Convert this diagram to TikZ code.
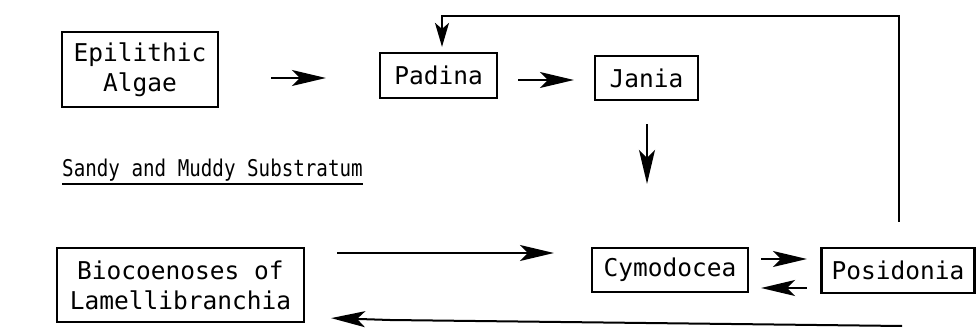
\documentclass[tikz,border=0pt]{standalone}
\usepackage{fontspec}
\setmonofont{DejaVu Sans Mono}
\usetikzlibrary{arrows.meta}
\begin{document}
\begin{tikzpicture}[x=1pt,y=1pt,
  box/.style={draw,line width=2.2pt,inner sep=0pt,align=center,
    font=\ttfamily\fontsize{24.5}{30}\selectfont},
  arr/.style={line width=2pt,-{Stealth[length=34pt,width=16pt,inset=8pt]}},
  shortarr/.style={line width=2pt,-{Stealth[length=24pt,width=14pt,inset=6pt]}},
  link/.style={line width=1.6pt}]
\useasboundingbox (0,0) rectangle (976,329);
\node[box,minimum width=156pt,minimum height=75pt] (epi) at (140,259.5) {Epilithic\\Algae};
\node[box,minimum width=117pt,minimum height=45pt] (pad) at (438.5,253.5) {Padina};
\node[box,minimum width=103pt,minimum height=44pt] (jan) at (646.5,251) {Jania};
\node[box,minimum width=156pt,minimum height=44pt] (cym) at (670,59) {Cymodocea};
\node[box,minimum width=153pt,minimum height=45pt] (pos) at (898,58.5) {Posidonia};
\node[box,minimum width=247pt,minimum height=74pt] (bio) at (180.5,44) {Biocoenoses of\\Lamellibranchia};
\node[anchor=base west,inner sep=0pt,yscale=1.2,transform shape,font=\ttfamily\fontsize{19.2}{24}\selectfont] (sub) at (62,152) {Sandy and Muddy Substratum};
\draw[link] ([yshift=-7pt]sub.base west) -- ([yshift=-7pt]sub.base east);
% arrows
\draw[arr] ([xshift=52pt,yshift=-8.5pt]epi.east) -- ([xshift=-53pt,yshift=-2.5pt]pad.west);
\draw[arr] ([xshift=20pt,yshift=-4.5pt]pad.east) -- ([xshift=-20pt,yshift=-2pt]jan.west);
\draw[arr] ([xshift=0.5pt,yshift=-23pt]jan.south) -- ([xshift=-23pt,yshift=63pt]cym.north);
\draw[arr] ([xshift=32pt,yshift=32pt]bio.east) -- ([xshift=-37pt,yshift=17pt]cym.west);
\draw[arr] ([xshift=12pt,yshift=11pt]cym.east) -- ([xshift=-13.5pt,yshift=11.5pt]pos.west);
\draw[arr] ([xshift=-13.5pt,yshift=-17.5pt]pos.west) -- ([xshift=12pt,yshift=-18pt]cym.east);
\coordinate (topc) at (442,313);
\draw[shortarr] ([xshift=1pt,yshift=25pt]pos.north) |- (topc) -- ([xshift=3.5pt,yshift=5pt]pad.north);
\coordinate (bstart) at (902,3);
\coordinate (bbend) at (390,9);
\draw[arr] (bstart) -- (bbend) -- ([xshift=26pt,yshift=5pt]bio.south east);
\end{tikzpicture}
\end{document}
